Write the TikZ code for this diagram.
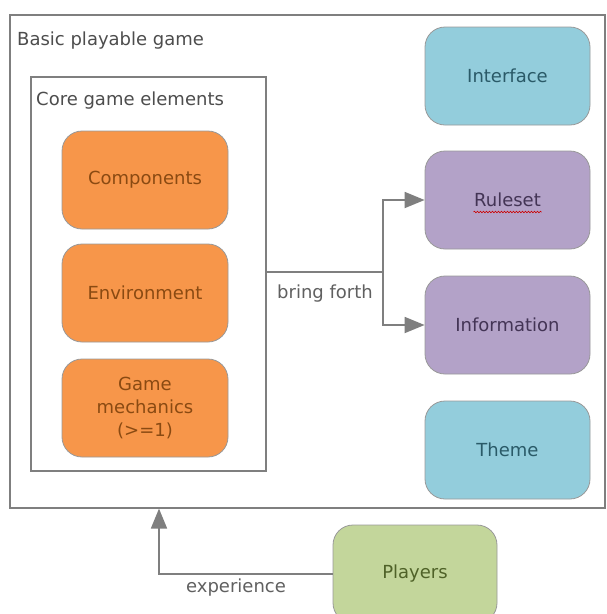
\documentclass[tikz,border=0pt]{standalone}
\usepackage{fontspec}
\setmainfont{DejaVu Sans}
\usetikzlibrary{arrows.meta,decorations.pathmorphing}
\definecolor{orfill}{HTML}{F7964A}
\definecolor{ortext}{HTML}{8A4A12}
\definecolor{aqfill}{HTML}{93CDDC}
\definecolor{aqtext}{HTML}{2A5A68}
\definecolor{pufill}{HTML}{B3A2C8}
\definecolor{putext}{HTML}{433455}
\definecolor{grfill}{HTML}{C3D69B}
\definecolor{grtext}{HTML}{4F6228}
\definecolor{linegray}{HTML}{7F7F7F}
\definecolor{labgray}{HTML}{606060}
\tikzset{
  txt/.style={font=\fontsize{18}{23}\selectfont},
  rbox/.style={txt, rounded corners=20pt, minimum width=#1, minimum height=98pt, inner sep=0pt, align=center, draw=linegray!80, line width=0.8pt},
  frame/.style={draw=linegray, line width=1.6pt, inner sep=0pt, anchor=north west},
  conn/.style={draw=linegray, line width=1.8pt},
  arr/.style={conn, -{Triangle[length=20pt,width=16pt]}},
}
\begin{document}
\begin{tikzpicture}[x=1pt,y=-1pt]
\useasboundingbox[fill=white] (0,0) rectangle (606,614);
% frames
\node[frame, minimum width=595pt, minimum height=493pt] (basic) at (9,14) {};
\node[frame, minimum width=235pt, minimum height=394pt] (core) at (30,76) {};
\node[txt, anchor=west, text=labgray!80!black, inner sep=0pt] (basiclab) at (17,41) {Basic playable game};
\node[txt, anchor=west, text=labgray!80!black, inner sep=0pt] (corelab) at (36,101) {Core game elements};
% orange
\node[rbox=166pt, fill=orfill, text=ortext] (comp) at (145,180) {Components};
\node[rbox=166pt, fill=orfill, text=ortext] (env) at (145,293) {Environment};
\node[rbox=166pt, fill=orfill, text=ortext] (mech) at (145,408) {Game\\mechanics\\(>=1)};
% right column
\node[rbox=165pt, fill=aqfill, text=aqtext] (iface) at (507.5,76) {Interface};
\node[rbox=165pt, fill=pufill, text=putext] (rules) at (507.5,200) {Ruleset};
\node[rbox=165pt, fill=pufill, text=putext] (info) at (507.5,325) {Information};
\node[rbox=165pt, fill=aqfill, text=aqtext] (theme) at (507.5,450) {Theme};
\node[rbox=164pt, fill=grfill, text=grtext] (players) at (415,574) {Players};
% spell-check squiggle under Ruleset
\draw[red!80!black, line width=0.6pt, decorate, decoration={snake, amplitude=0.8pt, segment length=3pt}] ([xshift=-34pt,yshift=-12pt]rules.center) -- ([xshift=34pt,yshift=-12pt]rules.center);
% connectors
\coordinate (split) at (383,272);
\draw[conn] (core.east |- split) -- (split);
\draw[arr] (split) |- (rules.west);
\draw[arr] (split) |- (info.west);
\node[txt, text=labgray, anchor=north, inner sep=0pt] (bring) at (325,285) {bring forth};
\coordinate (exp) at (159,574);
\draw[arr] (players.west) -- (exp) -- (exp |- basic.south);
\node[txt, text=labgray, inner sep=0pt] (explab) at (236,588) {experience};
\end{tikzpicture}
\end{document}
